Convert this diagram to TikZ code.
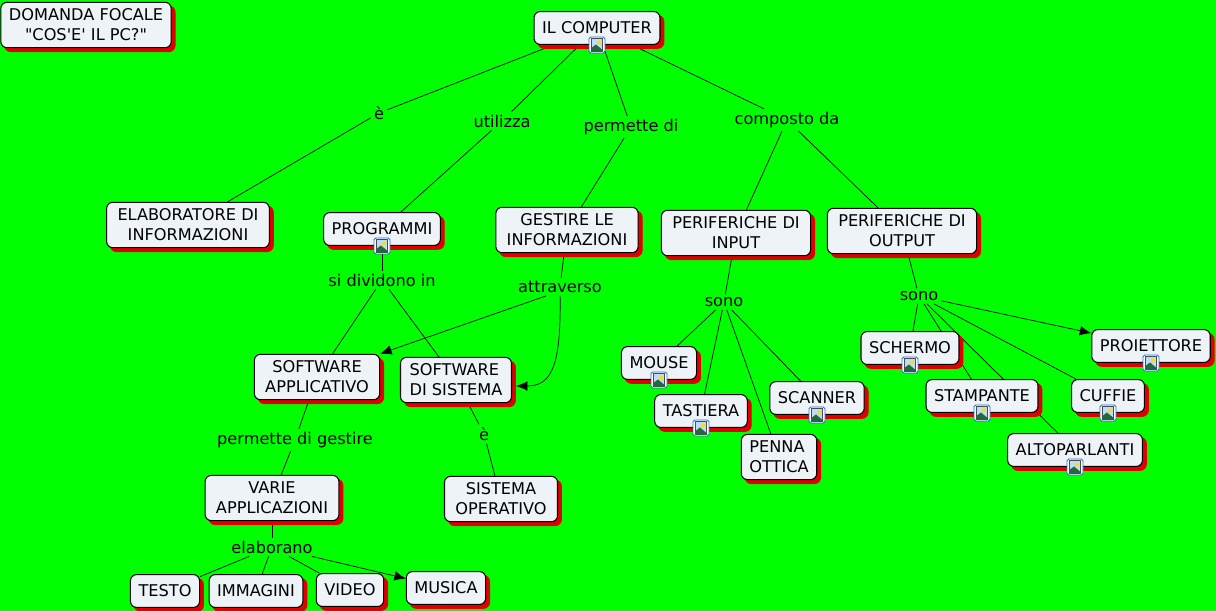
\documentclass[tikz,border=0pt]{standalone}
\usepackage{fontspec}
\newfontfamily\mapfont{DejaVu Sans}
\usetikzlibrary{shadows,backgrounds,arrows.meta}
\pgfdeclarelayer{links}
\pgfsetlayers{background,links,main}
\definecolor{mapgreen}{RGB}{0,255,0}
\definecolor{mapred}{RGB}{225,0,0}
\definecolor{boxfill}{RGB}{238,243,248}
\definecolor{iconblue}{RGB}{40,110,210}
\definecolor{iconsky}{RGB}{190,220,245}
\definecolor{iconhill}{RGB}{35,105,60}

\tikzset{
imgicon/.pic={
\draw[iconblue,fill=white,line width=0.5pt,rounded corners=1pt] (-8,-8) rectangle (8,8);
\draw[black!70,fill=iconsky,line width=0.4pt] (-5.5,-6.5) rectangle (5.5,6.5);
\fill[yellow!80!orange] (2,-2.5) circle (2);
\fill[iconhill] (-5.5,6.5) -- (-5.5,3) -- (-1,-0.5) -- (5.5,5) -- (5.5,6.5) -- cycle;
}
}

\begin{document}
\begin{tikzpicture}[x=0.02cm,y=-0.02cm,line width=0.6pt,font=\mapfont\fontsize{9.2}{11.3}\selectfont,main node/.style={draw=black,fill=boxfill,rounded corners=3.5pt,align=center,inner xsep=4.6pt,inner ysep=3.8pt,minimum height=18.7pt,general shadow={fill=mapred,draw=mapred,shadow xshift=2.2pt,shadow yshift=-2.2pt}},wide node/.style={main node,inner xsep=6.2pt},link node/.style={inner sep=1.5pt},tip/.style={-{Latex[length=6.5pt,width=5.5pt]}}]
\useasboundingbox (0,0) rectangle (1216,611);
\begin{scope}[on background layer]
\fill[mapgreen] (0,0) rectangle (1216,611);
\end{scope}

\node[main node] (focale) at (86,25) {DOMANDA FOCALE\\"COS'E' IL PC?"};
\node[main node] (computer) at (597,28) {IL COMPUTER};
\node[wide node] (elaboratore) at (188,225) {ELABORATORE DI\\INFORMAZIONI};
\node[main node] (programmi) at (382,229) {PROGRAMMI};
\node[wide node] (gestire) at (567,230) {GESTIRE LE\\INFORMAZIONI};
\node[wide node] (input) at (736,233) {PERIFERICHE DI\\INPUT};
\node[wide node] (output) at (902,231) {PERIFERICHE DI\\OUTPUT};
\node[wide node] (applicativo) at (317,377) {SOFTWARE\\APPLICATIVO};
\node[main node,inner xsep=5.2pt,align=left] (sistema) at (456,380) {SOFTWARE\\DI SISTEMA};
\node[wide node] (operativo) at (501,499) {SISTEMA\\OPERATIVO};
\node[wide node] (varie) at (272,498) {VARIE\\APPLICAZIONI};
\node[main node] (testo) at (165,591) {TESTO};
\node[main node] (immagini) at (256,591) {IMMAGINI};
\node[main node] (video) at (350,590) {VIDEO};
\node[main node] (musica) at (446,588) {MUSICA};
\node[main node] (mouse) at (659,363) {MOUSE};
\node[main node] (tastiera) at (701,411) {TASTIERA};
\node[main node,align=left] (penna) at (779,457) {PENNA\\OTTICA};
\node[main node] (scanner) at (817,398) {SCANNER};
\node[main node] (schermo) at (910,348) {SCHERMO};
\node[main node] (stampante) at (982,396) {STAMPANTE};
\node[main node] (altoparlanti) at (1075,450) {ALTOPARLANTI};
\node[main node] (cuffie) at (1108,396) {CUFFIE};
\node[main node] (proiettore) at (1151,346) {PROIETTORE};

\node[link node] (e) at (379,113) {è};
\node[link node] (utilizza) at (502,121) {utilizza};
\node[link node] (permette) at (631,127) {permette di};
\node[link node] (composto) at (787,120) {composto da};
\node[link node] (dividono) at (382,280) {si dividono in};
\node[link node] (attraverso) at (560,287) {attraverso};
\node[link node] (sonoin) at (724,302) {sono};
\node[link node] (sonoout) at (919,296) {sono};
\node[link node] (esis) at (484,434) {è};
\node[link node] (gestisce) at (295,440) {permette di gestire};
\node[link node] (elaborano) at (272,547) {elaborano};

\begin{pgfonlayer}{links}
\path[draw]
(computer) edge (e)
edge (utilizza)
edge (permette)
edge (composto)
(e) edge (elaboratore)
(utilizza) edge (programmi)
(permette) edge (gestire)
(composto) edge (input)
edge (output)
(programmi) edge (dividono)
(dividono) edge (applicativo)
edge (sistema)
(gestire) edge (attraverso)
([xshift=-8pt]attraverso.south) edge[tip] (applicativo.north east)
(applicativo) edge (gestisce)
(gestisce) edge (varie)
(sistema) edge (esis)
(esis) edge (operativo)
(varie) edge (elaborano)
(elaborano) edge (testo)
edge (immagini)
edge (video)
edge[tip] (musica)
(input) edge (sonoin)
(sonoin) edge (mouse)
edge (tastiera)
edge (penna)
edge (scanner)
(output) edge (sonoout)
(sonoout) edge (schermo)
edge (stampante)
edge (altoparlanti)
edge (cuffie)
edge[tip] (proiettore)
;
\draw[tip] (attraverso) .. controls (561,365) and (552,386) .. ([shift={(4,6)}]sistema.east);
\end{pgfonlayer}

\foreach \n in {computer,programmi,mouse,tastiera,scanner,schermo,stampante,altoparlanti,cuffie,proiettore}
\pic at (\n.south) {imgicon};
\end{tikzpicture}
\end{document}
